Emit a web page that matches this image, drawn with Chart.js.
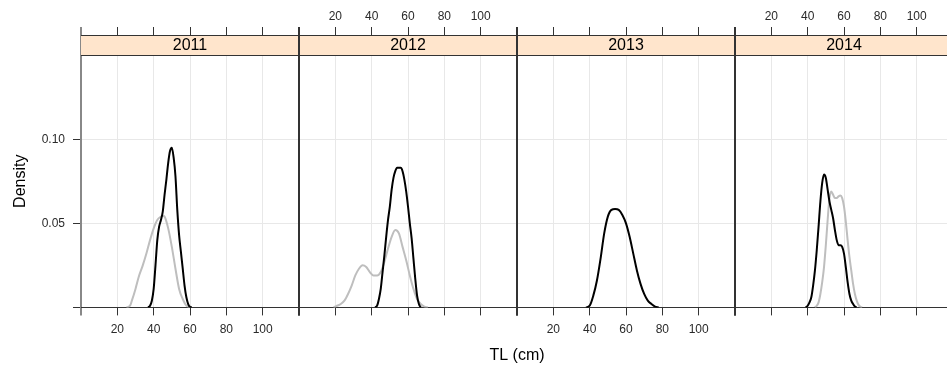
<!DOCTYPE html>
<html>
<head>
<meta charset="utf-8">
<script src="https://cdn.jsdelivr.net/npm/chart.js@4.4.1/dist/chart.umd.min.js"></script>
<style>
  html, body { margin: 0; padding: 0; background: #fff; overflow: hidden; }
  #wrap { position: relative; width: 953px; height: 367px; }
</style>
</head>
<body>
<div id="wrap"><canvas id="densityChart"></canvas></div>
<script>
const years = ["2011", "2012", "2013", "2014"];
const xTickLabels = [20, 40, 60, 80, 100];
const yTickValues = [0, 0.05, 0.10];

// black curves (TL in cm, density)
const tlBlack2011 = [37, 38, 39, 40, 41, 42, 43, 44, 45, 46, 47, 48, 49, 50, 51, 52, 53, 54, 55, 56, 57, 58, 59, 60, 61];
const densBlack2011 = [0, 0.001, 0.004, 0.011, 0.025, 0.040, 0.048, 0.052, 0.057, 0.067, 0.076, 0.086, 0.093, 0.095, 0.089, 0.078, 0.058, 0.043, 0.033, 0.023, 0.013, 0.006, 0.002, 0.0003, 0];
const tlBlack2012 = [42, 43, 44, 45, 46, 47, 48, 49, 50, 51, 52, 53, 54, 55, 56, 57, 58, 59, 60, 61, 62, 63, 64, 65, 66, 67];
const densBlack2012 = [0, 0.001, 0.005, 0.011, 0.021, 0.031, 0.042, 0.052, 0.060, 0.070, 0.077, 0.081, 0.083, 0.083, 0.083, 0.081, 0.076, 0.069, 0.060, 0.050, 0.041, 0.029, 0.017, 0.007, 0.002, 0];
const tlBlack2013 = [38, 40, 42, 44, 46, 48, 50, 52, 54, 56, 58, 60, 62, 64, 66, 68, 70, 72, 74, 76, 78];
const densBlack2013 = [0, 0.001, 0.007, 0.016, 0.029, 0.044, 0.054, 0.058, 0.0585, 0.058, 0.055, 0.050, 0.042, 0.032, 0.022, 0.014, 0.008, 0.004, 0.002, 0.0005, 0];
const tlBlack2014 = [39, 40, 41, 42, 43, 44, 45, 46, 47, 48, 49, 50, 51, 52, 53, 54, 55, 56, 57, 58, 59, 60, 61, 62, 63, 64, 65, 66, 67];
const densBlack2014 = [0, 0.001, 0.003, 0.006, 0.013, 0.022, 0.034, 0.048, 0.063, 0.074, 0.079, 0.077, 0.070, 0.063, 0.058, 0.053, 0.046, 0.040, 0.037, 0.037, 0.036, 0.032, 0.024, 0.015, 0.008, 0.004, 0.002, 0.0005, 0];

// grey curves
const tlGrey2011 = [25, 27, 28, 30, 32, 34, 36, 38, 40, 42, 44, 45, 46, 48, 50, 52, 54, 56, 58, 60];
const densGrey2011 = [0, 0.001, 0.004, 0.011, 0.019, 0.025, 0.032, 0.040, 0.047, 0.052, 0.054, 0.0545, 0.054, 0.047, 0.036, 0.023, 0.011, 0.005, 0.001, 0];
const tlGrey2012 = [19, 21, 23, 25, 27, 29, 31, 33, 35, 37, 39, 41, 43, 45, 47, 49, 51, 53, 55, 57, 59, 61, 63, 65, 67, 69, 71];
const densGrey2012 = [0, 0.001, 0.002, 0.004, 0.008, 0.013, 0.019, 0.023, 0.025, 0.024, 0.021, 0.019, 0.019, 0.021, 0.027, 0.035, 0.042, 0.046, 0.044, 0.036, 0.028, 0.019, 0.011, 0.005, 0.002, 0.0005, 0];
const tlGrey2014 = [44, 45, 46, 47, 48, 49, 50, 51, 52, 53, 54, 55, 56, 57, 58, 59, 60, 61, 62, 63, 64, 65, 66, 67, 68, 69, 70];
const densGrey2014 = [0, 0.001, 0.003, 0.008, 0.015, 0.024, 0.037, 0.052, 0.065, 0.069, 0.067, 0.065, 0.065, 0.066, 0.0665, 0.065, 0.060, 0.051, 0.040, 0.030, 0.022, 0.014, 0.008, 0.004, 0.0015, 0.0004, 0];

const blackCurves = [
    [tlBlack2011, densBlack2011],
    [tlBlack2012, densBlack2012],
    [tlBlack2013, densBlack2013],
    [tlBlack2014, densBlack2014],
];
const greyCurves = [
    [tlGrey2011, densGrey2011],
    [tlGrey2012, densGrey2012],
    null,
    [tlGrey2014, densGrey2014],
];

const toPoints = (xs, ys) => xs.map((x, i) => ({ x: x, y: ys[i] }));
const FONT = '"Liberation Sans", Arial, Helvetica, sans-serif';
Chart.defaults.font.family = FONT;
Chart.defaults.font.size = 12;
Chart.defaults.color = "#2a2a2a";

const GRID = "#e8e8e8";
const DARK = "#333";
const LEFT_EDGE = "#888";
const STRIP_H = 20;

const datasets = [];
years.forEach((yr, i) => {
    const b = blackCurves[i];
    datasets.push({
        label: yr + " black",
        data: toPoints(b[0], b[1]),
        xAxisID: "b" + i,
        yAxisID: "y",
        borderColor: "#000",
        borderWidth: 2,
        pointRadius: 0,
        cubicInterpolationMode: "monotone",
        order: 0,
    });
    const g = greyCurves[i];
    if (g) {
        datasets.push({
            label: yr + " grey",
            data: toPoints(g[0], g[1]),
            xAxisID: "b" + i,
            yAxisID: "y",
            borderColor: "#bebebe",
            borderWidth: 2,
            pointRadius: 0,
            cubicInterpolationMode: "monotone",
            order: 1,
        });
    }
});

const isEdge = (c) => c.tick && (c.tick.value === 0 || c.tick.value === 120);
const isLeftEdge = (i, c) => i === 0 && c.tick && c.tick.value === 0;
const noSidePadding = (s) => { s.paddingLeft = 0; s.paddingRight = 0; };

const scales = {
    y: {
        position: "left",
        min: 0,
        max: 0.162,
        afterFit: (s) => { s.width = 81; },
        afterBuildTicks: (s) => { s.ticks = yTickValues.map((v) => ({ value: v })); },
        ticks: {
            padding: 8,
            callback: (v) => (v === 0 ? "" : v.toFixed(2)),
        },
        grid: {
            color: (c) => (c.tick && c.tick.value === 0 ? "rgba(0,0,0,0)" : GRID),
            tickColor: DARK,
            tickLength: 8,
        },
        border: { color: LEFT_EDGE, width: 2 },
    },
};
const xGrid = (i, onChart) => ({
    drawOnChartArea: onChart,
    color: (c) => (isLeftEdge(i, c) ? "rgba(0,0,0,0)" : isEdge(c) ? DARK : GRID),
    lineWidth: (c) => (isEdge(c) ? 2 : 1),
    tickColor: (c) => (isLeftEdge(i, c) ? LEFT_EDGE : DARK),
    tickLength: 8,
});
years.forEach((yr, i) => {
    scales["b" + i] = {
        type: "linear",
        position: "bottom",
        stack: "panels",
        min: 0,
        max: 120,
        afterFit: (s) => { s.height = 27; noSidePadding(s); },
        ticks: {
            stepSize: 20,
            autoSkip: false,
            maxRotation: 0,
            padding: 7,
            callback: (v) => (i % 2 === 0 && xTickLabels.includes(v) ? String(v) : ""),
        },
        grid: xGrid(i, true),
        border: { color: DARK },
    };
});
// top boxes are laid out in reverse order, so add them last panel first
years.slice().reverse().forEach((yr, k) => {
    const i = years.length - 1 - k;
    scales["t" + i] = {
        type: "linear",
        position: "top",
        stack: "panelsTop",
        min: 0,
        max: 120,
        afterFit: (s) => { s.height = 35; noSidePadding(s); },
        ticks: {
            stepSize: 20,
            autoSkip: false,
            maxRotation: 0,
            padding: 3,
            callback: (v) => (i % 2 === 1 && xTickLabels.includes(v) ? String(v) : ""),
        },
        grid: xGrid(i, false),
        border: { color: DARK },
    };
});

// strips with the year above each panel, and the y axis label
const stripPlugin = {
    id: "strips",
    beforeDatasetsDraw(chart) {
        const { ctx, chartArea } = chart;
        const top = chartArea.top;
        ctx.save();
        years.forEach((yr, i) => {
            const s = chart.scales["b" + i];
            ctx.fillStyle = "#ffe5cc";
            ctx.fillRect(s.left, top, s.width, STRIP_H);
            ctx.strokeStyle = DARK;
            ctx.lineWidth = 1;
            ctx.beginPath();
            ctx.moveTo(s.left, top + 0.5);
            ctx.lineTo(s.right, top + 0.5);
            ctx.moveTo(s.left, top + STRIP_H + 0.5);
            ctx.lineTo(s.right, top + STRIP_H + 0.5);
            ctx.stroke();
            ctx.fillStyle = "#000";
            ctx.font = "16px " + FONT;
            ctx.textAlign = "center";
            ctx.textBaseline = "middle";
            ctx.fillText(yr, s.left + s.width / 2, top + STRIP_H / 2 + 1);
        });
        // panel borders through the strip
        ctx.beginPath();
        years.forEach((yr, i) => {
            if (i === 0) return;
            const x = Math.round(chart.scales["b" + i].left);
            ctx.moveTo(x, top);
            ctx.lineTo(x, top + STRIP_H);
        });
        ctx.strokeStyle = DARK;
        ctx.lineWidth = 2;
        ctx.stroke();
        ctx.restore();
    },
    afterDraw(chart) {
        const { ctx, chartArea } = chart;
        ctx.save();
        ctx.translate(21, (chartArea.top + STRIP_H + chartArea.bottom) / 2);
        ctx.rotate(-Math.PI / 2);
        ctx.fillStyle = "#000";
        ctx.font = "16px " + FONT;
        ctx.textAlign = "center";
        ctx.textBaseline = "middle";
        ctx.fillText("Density", 0, 0);
        ctx.restore();
    },
};

const ctx = document.querySelector("#densityChart").getContext("2d");
const densityChart = new Chart(ctx, {
    type: "line",
    data: { datasets: datasets },
    options: {
        responsive: true,
        maintainAspectRatio: false,
        animation: false,
        layout: { padding: 0 },
        plugins: {
            legend: { display: false },
            tooltip: { enabled: false },
            title: {
                display: true,
                text: "TL (cm)",
                position: "bottom",
                fullSize: false,
                color: "#000",
                font: { size: 16, weight: "normal" },
                padding: { top: 12, bottom: 1.4 },
            },
        },
        scales: scales,
    },
    plugins: [stripPlugin],
});
</script>
</body>
</html>
